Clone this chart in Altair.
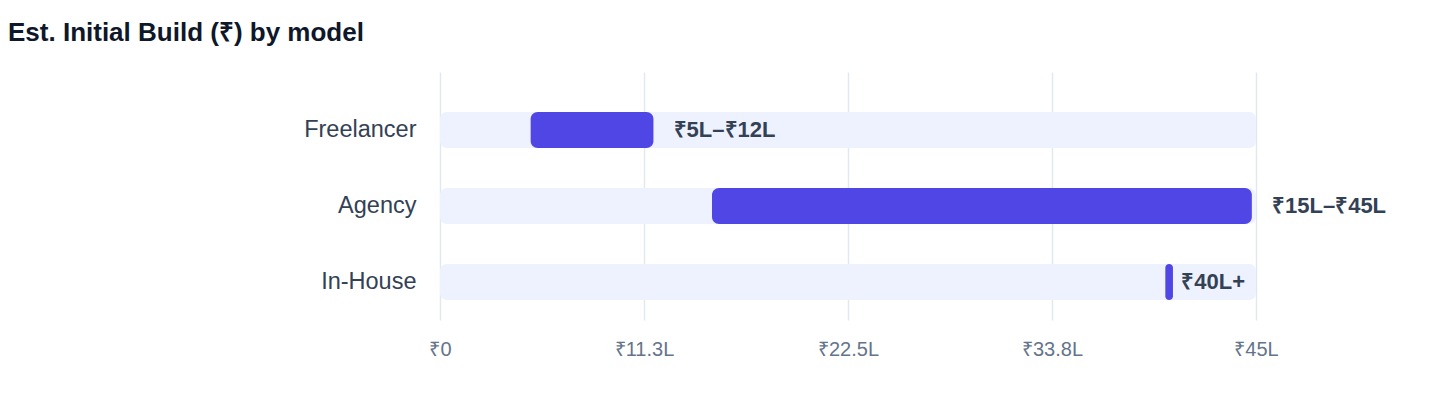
import altair as alt
import pandas as pd

models = ["Freelancer", "Agency", "In-House"]
low = [5, 15, 40]
high = [12, 45, 40]
labels = ["₹5L–₹12L", "₹15L–₹45L", "₹40L+"]
scale_max = 45
tick_values = [0, 11.25, 22.5, 33.75, 45]
tick_labels = ["₹0", "₹11.3L", "₹22.5L", "₹33.8L", "₹45L"]

df = pd.DataFrame({
    "model": models,
    "low": low,
    "high": high,
    "label": labels,
    "full": [scale_max] * len(models),
    "zero": [0] * len(models),
})

label_expr = "'' "
for v, t in reversed(list(zip(tick_values, tick_labels))):
    label_expr = f"datum.value == {v} ? '{t}' : ({label_expr})"

FONT = "Liberation Sans"

y = alt.Y(
    "model:N",
    sort=models,
    title=None,
    scale=alt.Scale(paddingInner=0.5263, paddingOuter=0.3947, align=0.667),
    axis=alt.Axis(
        domain=False, ticks=False, labelPadding=24, labelFontSize=23.5,
        labelColor="#334155", labelFont=FONT, grid=False,
    ),
)

xscale = alt.Scale(domain=[0, scale_max], nice=False)

base = alt.Chart(df)

bg = base.mark_bar(color="#EEF2FF", cornerRadius=7).encode(
    x=alt.X(
        "zero:Q",
        scale=xscale,
        title=None,
        axis=alt.Axis(
            values=tick_values, labelExpr=label_expr, domain=False, ticks=False,
            grid=True, gridColor="#E2E8F0", gridWidth=1.5, labelPadding=19,
            labelFlush=False, labelFontSize=20, labelColor="#64748B", labelFont=FONT,
        ),
    ),
    x2="full:Q",
    y=y,
)

rng = base.mark_bar(color="#4F46E5", cornerRadius=7).transform_calculate(
    bar_end="max(datum.high - 0.23, datum.low + 0.42)"
).encode(
    x=alt.X("low:Q", scale=xscale),
    x2="bar_end:Q",
    y=y,
)

txt = base.mark_text(
    align="left", baseline="middle", dx=16, fontSize=22, fontWeight="bold",
    color="#334155", font=FONT,
).encode(
    x=alt.X("high:Q", scale=xscale),
    y=y,
    text="label:N",
)

chart = alt.layer(bg, rng, txt).properties(
    width=816,
    height=248,
    padding={"left": 0, "top": 12, "right": 5, "bottom": 5},
    title=alt.TitleParams(
        "Est. Initial Build (₹) by model", anchor="start", frame="group", dx=-432,
        fontSize=26, fontWeight="bold", color="#0F172A", font=FONT, offset=26,
    ),
).configure(
    background="white",
    view=alt.ViewConfig(strokeWidth=0, strokeOpacity=0),
)

chart.save("out.html", embed_options={"renderer": "svg", "actions": False})
